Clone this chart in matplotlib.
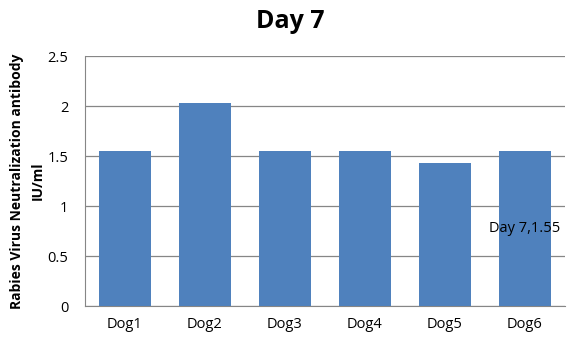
import matplotlib.pyplot as plt
import numpy as np

# === Data ===
dogs = ["Dog1", "Dog2", "Dog3", "Dog4", "Dog5", "Dog6"]
titer = [1.55, 2.03, 1.55, 1.55, 1.43, 1.55]
yticks = [0, 0.5, 1, 1.5, 2, 2.5]
ytick_labels = ["0", "0.5", "1", "1.5", "2", "2.5"]

plt.rcParams['font.family'] = ['Open Sans', 'DejaVu Sans']

fig = plt.figure(figsize=(5.81, 3.44), dpi=100)
ax = fig.add_axes([85 / 581, 38 / 344, 480 / 581, 250 / 344])

x = np.arange(len(dogs))
bars = ax.bar(x, titer, width=0.64, color="#4f81bd", zorder=3)

ax.set_xlim(-0.5, len(dogs) - 0.5)
ax.set_ylim(0, 2.5)
ax.set_yticks(yticks)
ax.set_yticklabels(ytick_labels)
ax.set_xticks(x)
ax.set_xticklabels(dogs)
ax.tick_params(axis="both", labelsize=10.5, length=0)
ax.tick_params(axis="x", pad=8)
ax.tick_params(axis="y", pad=12)
ax.grid(axis="y", color="#868686", linewidth=0.9, zorder=0)

for side in ["top", "right"]:
    ax.spines[side].set_visible(False)
for side in ["left", "bottom"]:
    ax.spines[side].set_color("#868686")

# data label on the last bar
ax.text(x[-1], titer[-1] / 2, f"Day 7,{titer[-1]:.2f}", ha="center", va="center", fontsize=10.5, zorder=4)

ax.set_ylabel("Rabies Virus Neutralization antibody\nIU/ml", fontsize=10, fontweight="bold",
              labelpad=2, linespacing=1.6)
fig.suptitle("Day 7", fontsize=18, fontweight="bold", y=0.975)

fig.savefig("out.png", dpi=100)
